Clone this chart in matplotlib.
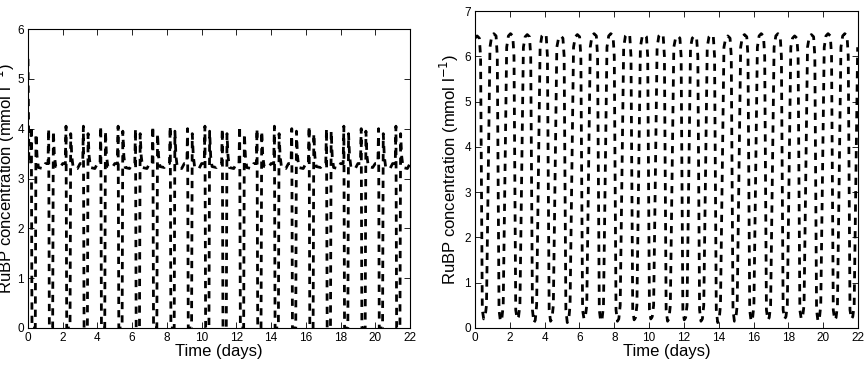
import numpy as np
import matplotlib.pyplot as plt

plt.rcParams['font.family'] = ['Liberation Sans', 'DejaVu Sans']

# ---- left panel: one cycle per day ----
left_day_start = [0, 1, 2, 3, 4, 5, 6, 7, 8, 9, 10, 11, 12, 13, 14, 15, 16, 17, 18, 19, 20, 21]
left_peak1 = [4.05, 4.0, 4.05, 4.05, 4.05, 4.05, 4.0, 4.05, 4.05, 4.0, 4.05,
              4.0, 4.05, 4.0, 4.05, 4.0, 4.05, 4.0, 4.05, 4.0, 4.0, 4.05]
left_peak2 = [3.9, 3.95, 3.9, 3.9, 3.95, 3.95, 3.9, 3.9, 3.95, 3.9, 3.95,
              3.9, 3.9, 3.95, 3.9, 3.95, 3.9, 3.95, 3.9, 3.95, 3.9, 3.9]
left_plateau = [3.2, 3.22, 3.2, 3.2, 3.22, 3.2, 3.2, 3.22, 3.2, 3.2, 3.22,
                3.2, 3.2, 3.22, 3.2, 3.2, 3.22, 3.2, 3.2, 3.22, 3.2, 3.2]
left_initial = [5.4, 3.3]          # values at t = 0 and t = 0.05
left_phase = [0.15, 0.19, 0.23, 0.42, 0.46, 0.52, 0.6, 0.85, 1.0]

# ---- right panel: free-running cycles ----
right_cycle_start = [0.0, 0.96, 1.92, 2.88, 3.84, 4.8, 5.76, 6.72, 7.68, 8.64, 9.6, 10.56,
                     11.52, 12.48, 13.44, 14.4, 15.36, 16.32, 17.28, 18.24, 19.2, 20.16, 21.12]
right_top = [6.45, 6.5, 6.5, 6.48, 6.5, 6.45, 6.48, 6.5, 6.5, 6.5, 6.48, 6.5,
             6.45, 6.45, 6.48, 6.45, 6.48, 6.5, 6.5, 6.45, 6.48, 6.5, 6.5]
right_bottom = [0.2, 0.15, 0.2, 0.12, 0.15, 0.12, 0.2, 0.15, 0.15, 0.18, 0.2, 0.15,
                0.18, 0.15, 0.12, 0.15, 0.15, 0.18, 0.2, 0.2, 0.15, 0.18, 0.2]
right_phase = [0.0, 0.12, 0.25, 0.32, 0.42, 0.5, 0.58, 0.66, 0.86]

xticks = [0, 2, 4, 6, 8, 10, 12, 14, 16, 18, 20, 22]


def left_series():
    t = [0.0, 0.05]
    y = list(left_initial)
    for s, p1, p2, pl in zip(left_day_start, left_peak1, left_peak2, left_plateau):
        vals = [3.3, p1, 0.0, 0.0, p2, 3.45, pl + 0.02, pl, 3.3]
        for ph, v in zip(left_phase, vals):
            t.append(s + ph)
            y.append(v)
    return np.array(t), np.array(y)


def right_series():
    t, y = [], []
    for c, top, bot in zip(right_cycle_start, right_top, right_bottom):
        vals = [top - 0.05, top, top - 0.05, 6.0, 0.4, bot, bot + 0.05, 0.5, 6.2]
        for ph, v in zip(right_phase, vals):
            t.append(c + ph)
            y.append(v)
    return np.array(t), np.array(y)


fig = plt.figure(figsize=(8.66, 3.66), dpi=100)
ax1 = fig.add_axes([28 / 866, 1 - 328 / 366, 382 / 866, 299 / 366])
ax2 = fig.add_axes([475 / 866, 1 - 328 / 366, 383 / 866, 317 / 366])

for ax, (t, y), ymax, lp in [(ax1, left_series(), 6, 0), (ax2, right_series(), 7, 2)]:
    ax.plot(t, y, color='black', linestyle='--', dashes=(2.6, 2.2), linewidth=2.0)
    ax.set_xlim(0, 22)
    ax.set_ylim(0, ymax)
    ax.set_xticks(xticks)
    ax.set_yticks(range(ymax + 1))
    ax.tick_params(direction='in', top=True, right=True, length=4, width=0.6,
                   labelsize=8.5, pad=3)
    for sp in ax.spines.values():
        sp.set_linewidth(0.8)
    ax.set_xlabel('Time (days)', fontsize=12, labelpad=0)
    ax.set_ylabel('RuBP concentration (mmol l$^{-1}$)', fontsize=12, labelpad=lp)

fig.savefig('out.png', dpi=100)
